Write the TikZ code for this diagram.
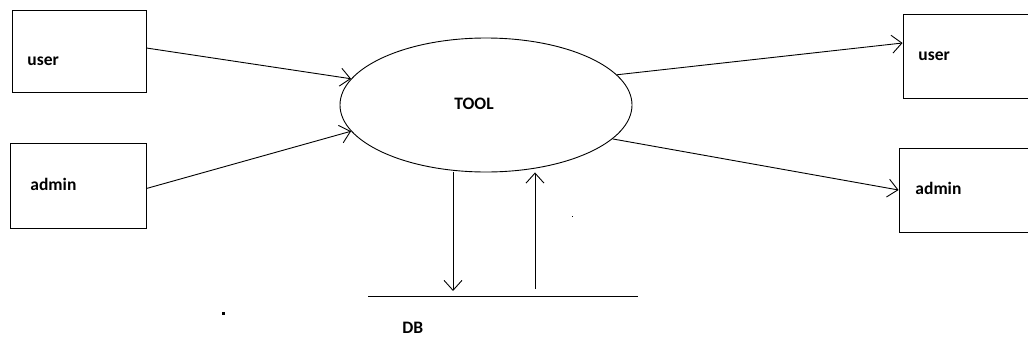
\documentclass[tikz,border=0pt]{standalone}
\usepackage{fontspec}
\setmainfont{Carlito}
\usetikzlibrary{shapes.geometric,arrows.meta}

\begin{document}
\begin{tikzpicture}[x=1pt,y=-1pt,line width=0.9pt,
            box/.style={draw,rectangle,inner sep=0pt},
            tool/.style={draw,ellipse,inner sep=0pt,minimum width=292pt,minimum height=134pt},
            lbl/.style={inner sep=0pt,anchor=base west,font=\fontsize{17.5}{20}\selectfont\bfseries},
            flow/.style={-{Straight Barb[length=10pt,width=18pt]}}]
            \useasboundingbox (0,0) rectangle (1028,362);
            % boxes
            \node[box,minimum width=134pt,minimum height=82pt] (luser) at (79,51) {};
            \node[box,minimum width=136pt,minimum height=85pt] (ladmin) at (78,185.5) {};
            \node[box,minimum width=137pt,minimum height=84pt] (ruser) at (971.5,56) {};
            \node[box,minimum width=141pt,minimum height=84pt] (radmin) at (969.5,190) {};
            \node[tool] (tool) at (486,105) {};
            % texts
            \node[lbl] (tuser) at (27,65) {user};
            \node[lbl] (tadmin) at (30,190) {admin};
            \node[lbl] (ttool) at (454,109) {TOOL};
            \node[lbl] (truser) at (918,60) {user};
            \node[lbl] (tradmin) at (915,194) {admin};
            \node[lbl] (tdb) at (402,333) {DB};
            % store
            \coordinate (dbl) at (368,296);
            \coordinate (dbr) at (638,296);
            \coordinate (dbin) at (453,291);
            \coordinate (dbout) at (535,289);
            \draw (dbl) -- (dbr);
            % flows
            \draw[flow] ([yshift=3pt]luser.east) -- (tool.169);
            \draw[flow] ([yshift=-3pt]ladmin.east) -- (tool.191);
            \draw[flow] (tool.13) -- ([yshift=13pt]ruser.west);
            \draw[flow] (tool.345) -- (radmin.west);
            \draw[flow] (dbin |- tool.south) -- (dbin);
            \draw[flow] (dbout) -- (dbout |- tool.south);
            % specks
            \fill (222,312) rectangle (225,315);
            \fill (571.5,215.5) rectangle (572.5,216.5);
\end{tikzpicture}
\end{document}
